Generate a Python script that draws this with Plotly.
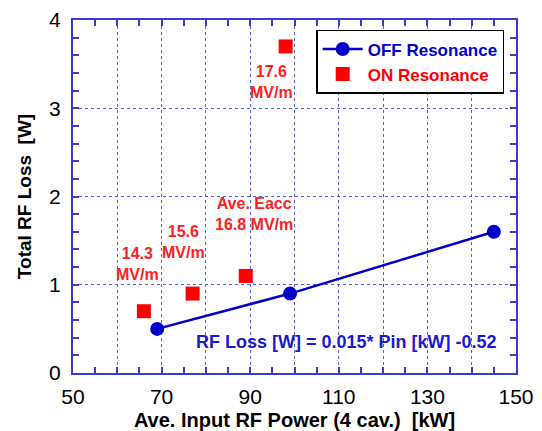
import plotly.graph_objects as go

# Data
off_power = [69, 99, 145]
off_loss = [0.5, 0.9, 1.6]
on_power = [66, 77, 89, 98]
on_loss = [0.7, 0.9, 1.1, 3.7]
x_tickvals = [50, 60, 70, 80, 90, 100, 110, 120, 130, 140, 150]
x_ticktext = ["50", "", "70", "", "90", "", "110", "", "130", "", "150"]
y_tickvals = [0, 1, 2, 3, 4]

BLUE = "#0000cc"
RED = "#ff0000"
AXBLUE = "#3a3ad8"
GRIDBLUE = "#5a5ae0"
FONT = "Liberation Sans, Arial, sans-serif"

fig = go.Figure()
fig.add_trace(go.Scatter(
    x=off_power, y=off_loss, mode="lines+markers",
    name="<b><span style='color:#0000cc'>OFF Resonance</span></b>",
    line=dict(color=BLUE, width=2.5),
    marker=dict(symbol="circle", size=14, color=BLUE),
))
fig.add_trace(go.Scatter(
    x=on_power, y=on_loss, mode="markers",
    name="<b><span style='color:#ff0000'>ON Resonance</span></b>",
    marker=dict(symbol="square", size=14, color=RED),
))

ann_font = dict(family=FONT, size=16, color="#ff2020")
annotations = [
    dict(x=94.8, y=3.30, text="<b>17.6<br>MV/m</b>", align="center"),
    dict(x=90.8, y=1.80, text="<b>Ave. Eacc<br>16.8 MV/m</b>", align="center"),
    dict(x=74.9, y=1.49, text="<b>15.6<br>MV/m</b>", align="center"),
    dict(x=64.5, y=1.24, text="<b>14.3<br>MV/m</b>", align="center"),
]
for a in annotations:
    a.update(xref="x", yref="y", showarrow=False, font=ann_font,
             xanchor="center", yanchor="middle")
annotations.append(dict(
    x=111.8, y=0.35, xref="x", yref="y", showarrow=False,
    text="<b>RF Loss [W] = 0.015* Pin [kW] -0.52</b>",
    font=dict(family=FONT, size=18, color="#1a1ad0"),
    xanchor="center", yanchor="middle"))

fig.update_layout(
    width=542, height=431,
    margin=dict(l=73, r=26, t=20, b=58, autoexpand=False),
    paper_bgcolor="white", plot_bgcolor="white",
    font=dict(family=FONT, color="black"),
    showlegend=True,
    legend=dict(
        x=0.549, y=0.972, xanchor="left", yanchor="top",
        bordercolor="black", borderwidth=1.5, bgcolor="white",
        font=dict(family=FONT, size=17),
        tracegroupgap=0, itemwidth=40,
    ),
    annotations=annotations,
)

fig.update_xaxes(
    range=[50, 150], tickmode="array", tickvals=x_tickvals, ticktext=x_ticktext,
    automargin=False,
    showline=True, linecolor=AXBLUE, linewidth=2, mirror="ticks",
    ticks="inside", ticklen=6, tickcolor=AXBLUE, tickwidth=1.5,
    showgrid=True, gridcolor=GRIDBLUE, griddash="dot", gridwidth=1,
    zeroline=False,
    tickfont=dict(family=FONT, size=21, color="black"),
    ticklabelstandoff=4,
    minor=dict(dtick=5, ticks="inside", ticklen=6, tickcolor=AXBLUE, showgrid=False),
    title=dict(text="<b>Ave. Input RF Power (4 cav.)&nbsp;&nbsp;[kW]</b>",
               font=dict(family=FONT, size=20, color="black"), standoff=6),
)
fig.update_yaxes(
    range=[0, 4], tickmode="array", tickvals=y_tickvals,
    automargin=False,
    showline=True, linecolor=AXBLUE, linewidth=2, mirror="ticks",
    ticks="inside", ticklen=6, tickcolor=AXBLUE, tickwidth=1.5,
    showgrid=True, gridcolor=GRIDBLUE, griddash="dot", gridwidth=1,
    zeroline=False,
    tickfont=dict(family=FONT, size=21, color="black"),
    ticklabelstandoff=6,
    minor=dict(dtick=0.2, ticks="inside", ticklen=6, tickcolor=AXBLUE, showgrid=False),
    title=dict(text="<b>Total RF Loss&nbsp;&nbsp;[W]</b>",
               font=dict(family=FONT, size=19, color="black"), standoff=12),
)

fig.write_html("out.html", config={"displayModeBar": False},
               post_script="document.body.style.margin='0';")
